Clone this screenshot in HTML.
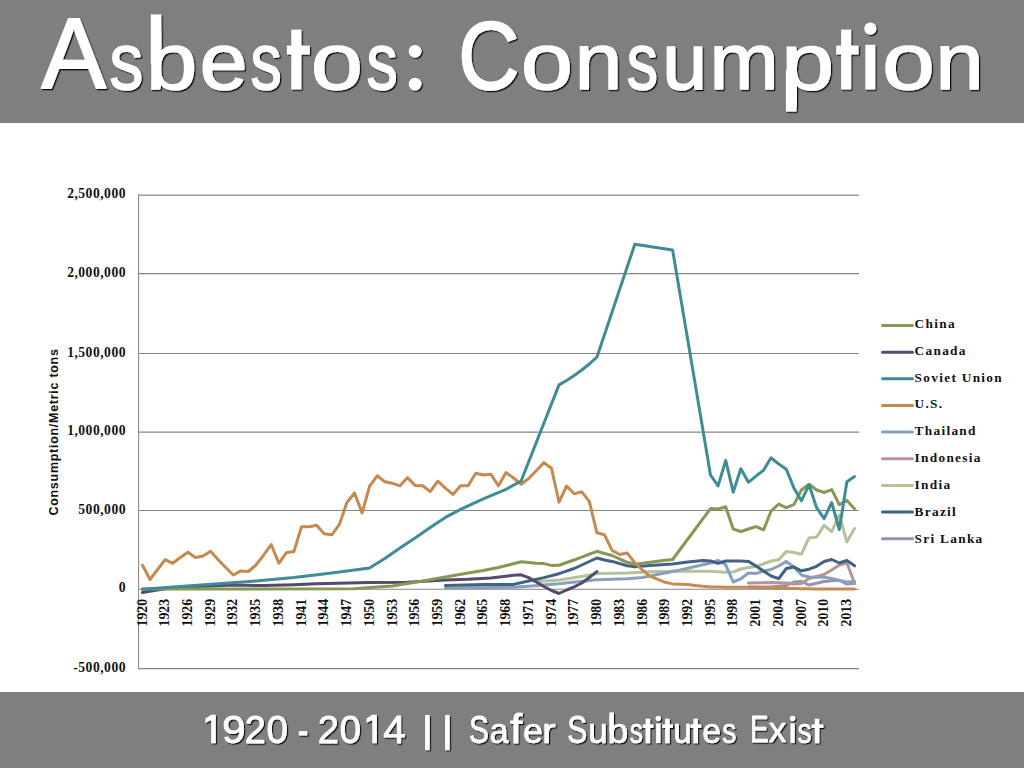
<!DOCTYPE html>
<html><head><meta charset="utf-8"><style>
html,body{margin:0;padding:0;background:#fff;width:1024px;height:768px;overflow:hidden}
.hdr{position:absolute;left:0;top:0;width:1024px;height:123px;background:#7f7f7f}
.ftr{position:absolute;left:0;top:692px;width:1024px;height:76px;background:#7f7f7f}
.tt{position:absolute;white-space:nowrap;color:#fff;font-family:"Liberation Sans",sans-serif;transform-origin:0 0}
svg{position:absolute;left:0;top:0}
</style></head><body>
<div class="hdr"></div>
<div class="ftr"></div>
<svg width="1024" height="130" viewBox="0 0 1024 130" style="position:absolute;left:0;top:0"><defs><filter id="sh" x="-10%" y="-10%" width="120%" height="130%"><feDropShadow dx="1.3" dy="1.3" stdDeviation="0.6" flood-color="#000" flood-opacity="0.9"/></filter></defs><g filter="url(#sh)" fill="#fff" stroke="#fff" stroke-width="2" stroke-linejoin="round" font-family="Liberation Sans" font-size="100"><text transform="translate(41.47,88.49) scale(0.9662,1.0085)">A</text><text transform="translate(109.55,88.60) scale(0.6756,0.8018)">s</text><text transform="translate(146.09,88.60) scale(0.9213,0.8018)">b</text><text transform="translate(199.72,88.60) scale(0.8592,0.8018)">e</text><text transform="translate(250.45,88.60) scale(0.6244,0.8018)">s</text><text transform="translate(311.00,88.60) scale(0.9327,0.8018)">o</text><text transform="translate(366.45,88.60) scale(0.6244,0.8018)">s</text><text transform="translate(458.31,88.57) scale(0.8477,0.9630)">C</text><text transform="translate(521.00,88.60) scale(0.9327,0.8018)">o</text><text transform="translate(574.87,88.70) scale(0.8545,0.7982)">n</text><text transform="translate(626.85,88.60) scale(0.6244,0.8018)">s</text><text transform="translate(662.37,88.59) scale(0.8067,0.8036)">u</text><text transform="translate(709.42,88.70) scale(0.8306,0.7982)">m</text><text transform="translate(781.16,88.61) scale(0.9489,0.7965)">p</text><text transform="translate(882.17,88.60) scale(0.9449,0.8018)">o</text><text transform="translate(935.40,88.70) scale(0.8659,0.7982)">n</text><rect stroke="none" x="291.3" y="29.6" width="10.1" height="59.9"/><rect stroke="none" x="286.9" y="45.6" width="22.9" height="8.9"/><rect stroke="none" x="841.1" y="29.6" width="10.1" height="59.9"/><rect stroke="none" x="836.2" y="45.6" width="22.4" height="8.9"/><rect stroke="none" x="150.8" y="14.4" width="10.5" height="50"/><rect stroke="none" x="785.9" y="70" width="10.6" height="41.6"/><circle stroke="none" cx="415.1" cy="51.3" r="6.4"/><circle stroke="none" cx="415.1" cy="84.1" r="6.4"/><rect stroke="none" x="865.4" y="44.8" width="9.9" height="44.7"/><circle stroke="none" cx="870.35" cy="28.6" r="6.1"/></g></svg>
<svg width="1024" height="768" viewBox="0 0 1024 768" style="position:absolute;left:0;top:0"><defs><filter id="sh2" x="-10%" y="-10%" width="120%" height="130%"><feDropShadow dx="1.2" dy="1.2" stdDeviation="0.5" flood-color="#000" flood-opacity="0.9"/></filter></defs><g filter="url(#sh2)" fill="#fff" stroke="#fff" stroke-width="2" stroke-linejoin="round" font-family="Liberation Sans" font-size="100"><text transform="translate(221.90,742.81) scale(0.4250,0.3959)">9</text><text transform="translate(244.68,742.80) scale(0.3792,0.3958)">2</text><text transform="translate(266.54,742.81) scale(0.3860,0.3959)">0</text><text transform="translate(297.84,745.34) scale(0.3185,0.4200)">-</text><text transform="translate(317.68,742.80) scale(0.3813,0.3958)">2</text><text transform="translate(339.54,742.81) scale(0.3860,0.3959)">0</text><text transform="translate(383.29,742.80) scale(0.4057,0.3958)">4</text><text transform="translate(469.01,742.72) scale(0.2983,0.3877)">S</text><text transform="translate(489.57,742.79) scale(0.3444,0.3561)">a</text><text transform="translate(510.10,742.59) scale(0.4483,0.4080)">f</text><text transform="translate(522.92,742.79) scale(0.3592,0.3561)">e</text><text transform="translate(541.93,742.65) scale(0.4111,0.3536)">r</text><text transform="translate(567.30,742.72) scale(0.3000,0.3877)">S</text><text transform="translate(588.16,742.79) scale(0.3489,0.3571)">u</text><text transform="translate(607.53,742.79) scale(0.3745,0.3561)">b</text><text transform="translate(629.77,742.79) scale(0.2644,0.3561)">s</text><text transform="translate(673.38,742.79) scale(0.3244,0.3571)">u</text><text transform="translate(702.18,742.79) scale(0.3388,0.3561)">e</text><text transform="translate(722.24,742.79) scale(0.2822,0.3561)">s</text><text transform="translate(750.04,742.12) scale(0.2804,0.3775)">E</text><text transform="translate(768.70,742.15) scale(0.3510,0.3455)">x</text><text transform="translate(797.44,742.79) scale(0.2822,0.3561)">s</text><path stroke="none" d="M211.2,714.7 L215.8,714.7 L215.8,743.3 L211.2,743.3 L211.2,720.2 L205.4,723.0 L205.4,718.6 Z"/><path stroke="none" d="M372.3,714.7 L376.9,714.7 L376.9,743.3 L372.3,743.3 L372.3,720.2 L366.5,723.0 L366.5,718.6 Z"/><rect stroke="none" x="645.59" y="718.7" width="4.6" height="24.6"/><rect stroke="none" x="642.7" y="724.4" width="10.7" height="3.6"/><rect stroke="none" x="665.12" y="718.7" width="4.6" height="24.6"/><rect stroke="none" x="662.2" y="724.4" width="10.8" height="3.6"/><rect stroke="none" x="693.42" y="718.7" width="4.6" height="24.6"/><rect stroke="none" x="690.5" y="724.4" width="10.8" height="3.6"/><rect stroke="none" x="814.79" y="718.7" width="4.6" height="24.6"/><rect stroke="none" x="811.6" y="724.4" width="11.8" height="3.6"/><rect stroke="none" x="609.4" y="712.4" width="4.5" height="20"/><rect stroke="none" x="656.10" y="723.4" width="4.4" height="19.7"/><circle stroke="none" cx="658.30" cy="718.5" r="2.75"/><rect stroke="none" x="790.40" y="723.4" width="4.4" height="19.7"/><circle stroke="none" cx="792.60" cy="718.5" r="2.75"/></g><g filter="url(#sh2)" fill="#fff"><rect x="425.1" y="715" width="4.6" height="35.2"/><rect x="445.1" y="715" width="4.6" height="35.2"/></g></svg>
<svg width="1024" height="768" viewBox="0 0 1024 768">
<line x1="138.1" y1="195.1" x2="859" y2="195.1" stroke="#858585" stroke-width="1.05"/>
<line x1="138.1" y1="273.6" x2="859" y2="273.6" stroke="#858585" stroke-width="1.05"/>
<line x1="138.1" y1="353.5" x2="859" y2="353.5" stroke="#858585" stroke-width="1.05"/>
<line x1="138.1" y1="432.1" x2="859" y2="432.1" stroke="#858585" stroke-width="1.05"/>
<line x1="138.1" y1="510.5" x2="859" y2="510.5" stroke="#858585" stroke-width="1.05"/>
<line x1="138.1" y1="589.3" x2="859" y2="589.3" stroke="#858585" stroke-width="1.05"/>
<line x1="138.1" y1="668.6" x2="859" y2="668.6" stroke="#858585" stroke-width="1.05"/>
<line x1="138.6" y1="194.6" x2="138.6" y2="669.1" stroke="#858585" stroke-width="1.05"/>
<text x="126.0" y="198.1" text-anchor="end" font-family="Liberation Serif" font-weight="700" font-size="13.6" letter-spacing="0.5" fill="#111">2,500,000</text>
<text x="126.0" y="276.6" text-anchor="end" font-family="Liberation Serif" font-weight="700" font-size="13.6" letter-spacing="0.5" fill="#111">2,000,000</text>
<text x="126.0" y="356.5" text-anchor="end" font-family="Liberation Serif" font-weight="700" font-size="13.6" letter-spacing="0.5" fill="#111">1,500,000</text>
<text x="126.0" y="435.1" text-anchor="end" font-family="Liberation Serif" font-weight="700" font-size="13.6" letter-spacing="0.5" fill="#111">1,000,000</text>
<text x="126.0" y="513.5" text-anchor="end" font-family="Liberation Serif" font-weight="700" font-size="13.6" letter-spacing="0.5" fill="#111">500,000</text>
<text x="126.0" y="592.3" text-anchor="end" font-family="Liberation Serif" font-weight="700" font-size="13.6" letter-spacing="0.5" fill="#111">0</text>
<text x="126.0" y="671.6" text-anchor="end" font-family="Liberation Serif" font-weight="700" font-size="13.6" letter-spacing="0.5" fill="#111">-500,000</text>
<text transform="translate(146.5,626.5) rotate(-90)" font-family="Liberation Serif" font-weight="700" font-size="13.8" fill="#111">1920</text>
<text transform="translate(169.2,626.5) rotate(-90)" font-family="Liberation Serif" font-weight="700" font-size="13.8" fill="#111">1923</text>
<text transform="translate(192.0,626.5) rotate(-90)" font-family="Liberation Serif" font-weight="700" font-size="13.8" fill="#111">1926</text>
<text transform="translate(214.7,626.5) rotate(-90)" font-family="Liberation Serif" font-weight="700" font-size="13.8" fill="#111">1929</text>
<text transform="translate(237.4,626.5) rotate(-90)" font-family="Liberation Serif" font-weight="700" font-size="13.8" fill="#111">1932</text>
<text transform="translate(260.1,626.5) rotate(-90)" font-family="Liberation Serif" font-weight="700" font-size="13.8" fill="#111">1935</text>
<text transform="translate(282.9,626.5) rotate(-90)" font-family="Liberation Serif" font-weight="700" font-size="13.8" fill="#111">1938</text>
<text transform="translate(305.6,626.5) rotate(-90)" font-family="Liberation Serif" font-weight="700" font-size="13.8" fill="#111">1941</text>
<text transform="translate(328.3,626.5) rotate(-90)" font-family="Liberation Serif" font-weight="700" font-size="13.8" fill="#111">1944</text>
<text transform="translate(351.0,626.5) rotate(-90)" font-family="Liberation Serif" font-weight="700" font-size="13.8" fill="#111">1947</text>
<text transform="translate(373.8,626.5) rotate(-90)" font-family="Liberation Serif" font-weight="700" font-size="13.8" fill="#111">1950</text>
<text transform="translate(396.5,626.5) rotate(-90)" font-family="Liberation Serif" font-weight="700" font-size="13.8" fill="#111">1953</text>
<text transform="translate(419.2,626.5) rotate(-90)" font-family="Liberation Serif" font-weight="700" font-size="13.8" fill="#111">1956</text>
<text transform="translate(441.9,626.5) rotate(-90)" font-family="Liberation Serif" font-weight="700" font-size="13.8" fill="#111">1959</text>
<text transform="translate(464.7,626.5) rotate(-90)" font-family="Liberation Serif" font-weight="700" font-size="13.8" fill="#111">1962</text>
<text transform="translate(487.4,626.5) rotate(-90)" font-family="Liberation Serif" font-weight="700" font-size="13.8" fill="#111">1965</text>
<text transform="translate(510.1,626.5) rotate(-90)" font-family="Liberation Serif" font-weight="700" font-size="13.8" fill="#111">1968</text>
<text transform="translate(532.8,626.5) rotate(-90)" font-family="Liberation Serif" font-weight="700" font-size="13.8" fill="#111">1971</text>
<text transform="translate(555.6,626.5) rotate(-90)" font-family="Liberation Serif" font-weight="700" font-size="13.8" fill="#111">1974</text>
<text transform="translate(578.3,626.5) rotate(-90)" font-family="Liberation Serif" font-weight="700" font-size="13.8" fill="#111">1977</text>
<text transform="translate(601.0,626.5) rotate(-90)" font-family="Liberation Serif" font-weight="700" font-size="13.8" fill="#111">1980</text>
<text transform="translate(623.7,626.5) rotate(-90)" font-family="Liberation Serif" font-weight="700" font-size="13.8" fill="#111">1983</text>
<text transform="translate(646.5,626.5) rotate(-90)" font-family="Liberation Serif" font-weight="700" font-size="13.8" fill="#111">1986</text>
<text transform="translate(669.2,626.5) rotate(-90)" font-family="Liberation Serif" font-weight="700" font-size="13.8" fill="#111">1989</text>
<text transform="translate(691.9,626.5) rotate(-90)" font-family="Liberation Serif" font-weight="700" font-size="13.8" fill="#111">1992</text>
<text transform="translate(714.6,626.5) rotate(-90)" font-family="Liberation Serif" font-weight="700" font-size="13.8" fill="#111">1995</text>
<text transform="translate(737.4,626.5) rotate(-90)" font-family="Liberation Serif" font-weight="700" font-size="13.8" fill="#111">1998</text>
<text transform="translate(760.1,626.5) rotate(-90)" font-family="Liberation Serif" font-weight="700" font-size="13.8" fill="#111">2001</text>
<text transform="translate(782.8,626.5) rotate(-90)" font-family="Liberation Serif" font-weight="700" font-size="13.8" fill="#111">2004</text>
<text transform="translate(805.5,626.5) rotate(-90)" font-family="Liberation Serif" font-weight="700" font-size="13.8" fill="#111">2007</text>
<text transform="translate(828.2,626.5) rotate(-90)" font-family="Liberation Serif" font-weight="700" font-size="13.8" fill="#111">2010</text>
<text transform="translate(851.0,626.5) rotate(-90)" font-family="Liberation Serif" font-weight="700" font-size="13.8" fill="#111">2013</text>
<text transform="translate(58.2,515.6) rotate(-90)" font-family="Liberation Sans" font-weight="700" font-size="12.5" letter-spacing="0.72" fill="#111">Consumption/Metric tons</text>
<line x1="882.5" y1="325.50" x2="912.5" y2="325.50" stroke="#849a52" stroke-width="3" stroke-linecap="round"/>
<text x="914.6" y="327.90" font-family="Liberation Serif" font-weight="700" font-size="13.3" letter-spacing="1.3" fill="#111">China</text>
<line x1="882.5" y1="352.15" x2="912.5" y2="352.15" stroke="#564a70" stroke-width="3" stroke-linecap="round"/>
<text x="914.6" y="354.76" font-family="Liberation Serif" font-weight="700" font-size="13.3" letter-spacing="1.3" fill="#111">Canada</text>
<line x1="882.5" y1="378.80" x2="912.5" y2="378.80" stroke="#3e8c98" stroke-width="3" stroke-linecap="round"/>
<text x="914.6" y="381.62" font-family="Liberation Serif" font-weight="700" font-size="13.3" letter-spacing="1.3" fill="#111">Soviet Union</text>
<line x1="882.5" y1="405.45" x2="912.5" y2="405.45" stroke="#c68a50" stroke-width="3" stroke-linecap="round"/>
<text x="914.6" y="408.48" font-family="Liberation Serif" font-weight="700" font-size="13.3" letter-spacing="1.3" fill="#111">U.S.</text>
<line x1="882.5" y1="432.10" x2="912.5" y2="432.10" stroke="#88a0bc" stroke-width="3" stroke-linecap="round"/>
<text x="914.6" y="435.34" font-family="Liberation Serif" font-weight="700" font-size="13.3" letter-spacing="1.3" fill="#111">Thailand</text>
<line x1="882.5" y1="458.75" x2="912.5" y2="458.75" stroke="#ba9399" stroke-width="3" stroke-linecap="round"/>
<text x="914.6" y="462.20" font-family="Liberation Serif" font-weight="700" font-size="13.3" letter-spacing="1.3" fill="#111">Indonesia</text>
<line x1="882.5" y1="485.40" x2="912.5" y2="485.40" stroke="#b3c298" stroke-width="3" stroke-linecap="round"/>
<text x="914.6" y="489.06" font-family="Liberation Serif" font-weight="700" font-size="13.3" letter-spacing="1.3" fill="#111">India</text>
<line x1="882.5" y1="512.05" x2="912.5" y2="512.05" stroke="#416386" stroke-width="3" stroke-linecap="round"/>
<text x="914.6" y="515.92" font-family="Liberation Serif" font-weight="700" font-size="13.3" letter-spacing="1.3" fill="#111">Brazil</text>
<line x1="882.5" y1="538.70" x2="912.5" y2="538.70" stroke="#9592b0" stroke-width="3" stroke-linecap="round"/>
<text x="914.6" y="542.78" font-family="Liberation Serif" font-weight="700" font-size="13.3" letter-spacing="1.3" fill="#111">Sri Lanka</text>
<polyline points="536.3,581.8 559.0,580.0 581.8,576.5 596.9,573.6 627.2,573.0 649.9,571.8 672.6,571.3 710.5,571.3 725.7,572.2 733.2,572.0 740.8,569.0 748.4,567.6 756.0,566.5 763.5,563.8 771.1,561.0 778.7,559.8 786.3,551.5 793.9,552.5 801.4,554.2 809.0,538.0 816.6,537.0 824.1,525.4 831.7,531.7 839.3,515.0 846.9,542.0 854.5,528.5" fill="none" stroke="#b3c298" stroke-width="3" stroke-linejoin="round" stroke-linecap="round"/>
<polyline points="748.4,587.0 771.1,587.0 786.3,585.4 793.9,582.0 801.4,581.5 809.0,585.0 824.1,581.5 831.7,580.8 839.3,580.2 846.9,584.1 854.5,583.4" fill="none" stroke="#9592b0" stroke-width="3" stroke-linejoin="round" stroke-linecap="round"/>
<polyline points="748.4,583.0 771.1,582.5 786.3,583.0 793.9,584.0 801.4,583.5 809.0,578.5 816.6,576.5 824.1,574.5 831.7,570.0 839.3,565.0 846.9,563.0 854.5,583.0" fill="none" stroke="#ba9399" stroke-width="3" stroke-linejoin="round" stroke-linecap="round"/>
<polyline points="445.4,587.9 513.6,587.3 528.7,586.3 559.0,583.8 589.3,580.6 596.9,579.8 627.2,578.8 642.4,577.5 657.5,574.5 680.2,570.0 695.4,566.5 710.5,563.0 718.1,560.5 725.7,564.8 733.2,582.0 740.8,578.8 748.4,573.0 756.0,573.5 763.5,571.0 771.1,569.5 778.7,566.0 786.3,561.4 793.9,567.0 801.4,575.0 809.0,577.0 816.6,577.3 824.1,577.3 831.7,578.5 839.3,580.5 846.9,582.0 854.5,581.5" fill="none" stroke="#88a0bc" stroke-width="3" stroke-linejoin="round" stroke-linecap="round"/>
<polyline points="445.4,585.4 483.3,584.4 513.6,584.4 528.7,581.0 543.9,577.6 559.0,573.7 574.2,568.5 581.8,565.0 589.3,561.5 596.9,558.0 604.5,560.0 612.1,561.4 627.2,565.8 634.8,566.7 649.9,565.6 672.6,563.9 687.8,562.0 703.0,560.5 710.5,561.0 718.1,563.4 725.7,561.0 733.2,561.0 740.8,561.0 748.4,561.4 756.0,566.0 763.5,571.0 771.1,576.0 778.7,578.7 786.3,568.5 793.9,567.0 801.4,570.8 809.0,569.2 816.6,566.3 824.1,561.5 831.7,559.5 839.3,563.0 846.9,560.5 854.5,565.8" fill="none" stroke="#416386" stroke-width="3" stroke-linejoin="round" stroke-linecap="round"/>
<polyline points="142.4,592.6 165.1,588.7 187.9,587.0 210.6,586.0 233.3,585.0 263.6,585.6 293.9,584.8 316.6,583.8 369.6,582.5 407.5,582.3 445.4,580.0 468.1,579.3 490.9,578.0 513.6,575.3 521.1,574.8 528.7,577.6 536.3,582.0 543.9,586.5 551.5,590.5 559.0,593.5 566.6,590.0 574.2,586.8 581.8,583.0 589.3,577.5 596.9,571.6" fill="none" stroke="#564a70" stroke-width="3" stroke-linejoin="round" stroke-linecap="round"/>
<polyline points="142.4,589.0 354.5,588.8 369.6,587.4 392.4,585.9 407.5,583.5 422.7,581.0 445.4,577.0 468.1,573.0 483.3,570.5 498.4,567.5 521.1,561.8 528.7,562.5 536.3,563.2 543.9,563.6 551.5,565.4 559.0,565.3 566.6,562.5 574.2,560.0 581.8,557.2 589.3,554.2 596.9,551.3 604.5,553.5 612.1,555.5 619.6,559.0 627.2,562.3 634.8,564.3 642.4,563.3 649.9,562.2 657.5,561.2 665.1,560.3 672.6,559.5 710.5,508.6 718.1,509.0 725.7,506.8 733.2,529.0 740.8,531.5 748.4,529.0 756.0,526.6 763.5,530.0 771.1,511.0 778.7,504.2 786.3,507.6 793.9,504.6 801.4,490.0 809.0,484.2 816.6,490.0 824.1,492.5 831.7,489.6 839.3,504.6 846.9,500.4 854.5,508.7" fill="none" stroke="#849a52" stroke-width="3" stroke-linejoin="round" stroke-linecap="round"/>
<polyline points="142.4,565.0 150.0,579.5 157.6,569.5 165.1,559.6 172.7,563.3 180.3,557.5 187.9,552.3 195.4,557.5 203.0,556.0 210.6,551.3 218.2,559.8 225.7,567.5 233.3,575.0 240.9,570.9 248.4,571.5 256.0,565.0 263.6,555.1 271.2,544.5 278.8,563.3 286.3,552.8 293.9,551.6 301.5,526.7 309.1,526.7 316.6,525.2 324.2,533.7 331.8,534.8 339.4,524.4 346.9,502.5 354.5,493.0 362.1,512.9 369.6,486.2 377.2,475.8 384.8,481.7 392.4,483.3 400.0,485.8 407.5,477.6 415.1,485.4 422.7,485.8 430.2,491.6 437.8,481.1 445.4,488.1 453.0,494.4 460.6,485.8 468.1,485.8 475.7,473.3 483.3,475.0 490.9,474.3 498.4,485.8 506.0,472.6 513.6,478.0 521.1,484.2 528.7,478.5 536.3,470.8 543.9,462.6 551.5,468.3 559.0,502.2 566.6,486.0 574.2,493.8 581.8,491.8 589.3,501.4 596.9,532.8 604.5,534.8 612.1,550.4 619.6,554.5 627.2,553.1 634.8,562.8 642.4,570.0 649.9,576.1 657.5,579.2 665.1,582.3 672.6,583.9 680.2,584.2 687.8,584.5 695.4,585.5 703.0,586.2 710.5,586.9 718.1,587.1 725.7,587.3 733.2,587.3 740.8,587.3 748.4,587.3 756.0,587.4 763.5,587.6 771.1,587.8 778.7,588.0 786.3,588.2 793.9,588.5 801.4,588.7 809.0,588.8 816.6,589.0 824.1,589.0 831.7,589.0 839.3,589.0 846.9,589.0 854.5,589.0" fill="none" stroke="#c68a50" stroke-width="3" stroke-linejoin="round" stroke-linecap="round"/>
<polyline points="142.4,589.2 180.3,586.5 218.2,583.7 256.0,581.0 293.9,577.5 331.8,573.0 369.6,568.0 384.8,558.5 400.0,548.0 415.1,538.0 430.2,527.6 445.4,517.4 460.6,509.4 483.3,498.8 506.0,489.3 521.1,481.0 559.0,384.9 566.6,380.5 574.2,375.5 581.8,370.0 589.3,364.0 596.9,357.2 634.8,244.3 672.6,249.9 710.5,475.0 718.1,485.9 725.7,460.4 733.2,492.1 740.8,468.8 748.4,482.3 756.0,476.1 763.5,470.2 771.1,457.8 778.7,464.0 786.3,469.3 793.9,487.9 801.4,500.8 809.0,484.8 816.6,507.7 824.1,518.7 831.7,502.5 839.3,529.6 846.9,481.7 854.5,476.5" fill="none" stroke="#3e8c98" stroke-width="3" stroke-linejoin="round" stroke-linecap="round"/>
</svg>
</body></html>
